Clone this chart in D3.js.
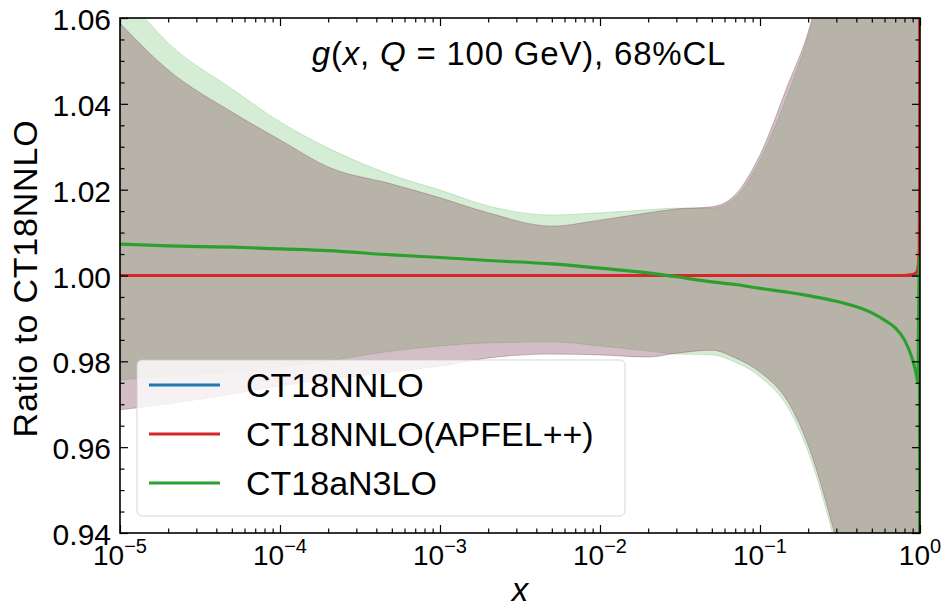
<!DOCTYPE html>
<html>
<head>
<meta charset="utf-8">
<script src="https://cdn.jsdelivr.net/npm/d3@7"></script>
<style>
  html, body { margin: 0; padding: 0; background: #fff; }
</style>
</head>
<body>
<svg id="chart" width="945" height="610"></svg>
<script>
// x grid (momentum fraction) shared by all curves
const xs = [1e-5, 2e-5, 5e-5, 1e-4, 2e-4, 5e-4, 1e-3, 2e-3, 5e-3, 1e-2,
            2e-2, 3e-2, 5e-2, 7e-2, 0.1, 0.15, 0.2, 0.3, 0.4, 0.5,
            0.6, 0.7, 0.8, 0.9, 0.95, 0.97, 0.99, 0.995, 0.999];

// CT18NNLO 68% CL band (ratio to CT18NNLO central)
const nnloLo = [0.9687, 0.9701, 0.9724, 0.9743, 0.9757, 0.9775, 0.9789, 0.9808, 0.9817, 0.9815,
                0.9810, 0.9819, 0.9826, 0.9808, 0.9775, 0.9705, 0.9605, 0.9384, 0.920, 0.900,
                0.870, 0.840, 0.800, 0.720, 0.620, 0.550, 0.400, 0.300, 0.100];
const nnloHi = [1.0588, 1.0479, 1.0381, 1.0316, 1.0253, 1.0213, 1.0181, 1.0146, 1.0115, 1.0129,
                1.0146, 1.0155, 1.0160, 1.0188, 1.0281, 1.0446, 1.0567, 1.085, 1.110, 1.140,
                1.180, 1.240, 1.330, 1.500, 1.700, 1.900, 2.500, 3.000, 4.000];
const nnloMid = [1, 1, 1, 1, 1, 1, 1, 1, 1, 1,
                 1, 1, 1, 1, 1, 1, 1, 1, 1, 1,
                 1, 1, 1, 1, 1, 1, 1, 1, 1];

// CT18NNLO evolved with APFEL++ (same band, central ratio)
const apfelLo = nnloLo.slice();
const apfelHi = nnloHi.slice();
const apfelMid = [1, 1, 1, 1, 1, 1, 1, 1, 1, 1,
                  1, 1, 1, 1, 1, 1, 1, 1, 1, 1,
                  1, 1, 1, 1.0002, 1.0007, 1.0015, 1.006, 1.02, 1.15];

// CT18aN3LO band and central ratio
const n3loLo = [0.9757, 0.9766, 0.9775, 0.9787, 0.9801, 0.9824, 0.9836, 0.9843, 0.9845, 0.9836,
                0.9824, 0.9817, 0.9815, 0.9798, 0.9764, 0.9691, 0.9589, 0.9365, 0.917, 0.897,
                0.867, 0.837, 0.797, 0.717, 0.617, 0.547, 0.397, 0.297, 0.097];
const n3loHi = [1.0670, 1.0542, 1.0435, 1.0358, 1.0297, 1.0234, 1.0199, 1.0162, 1.0141, 1.0146,
                1.0153, 1.0157, 1.0157, 1.0181, 1.0269, 1.0425, 1.0558, 1.083, 1.107, 1.137,
                1.177, 1.237, 1.327, 1.497, 1.697, 1.897, 2.497, 2.997, 3.997];
const n3loMid = [1.0073, 1.0069, 1.0066, 1.0062, 1.0058, 1.0048, 1.0042, 1.0035, 1.0027, 1.0017,
                 1.0006, 0.9997, 0.9985, 0.9979, 0.9970, 0.9961, 0.9953, 0.9940, 0.9927, 0.9913,
                 0.9896, 0.9878, 0.9850, 0.9803, 0.9768, 0.9752, 1.004, 0.950, 0.800];

const seriesNames = ["CT18NNLO", "CT18NNLO(APFEL++)", "CT18aN3LO"];
const seriesColors = ["#1f77b4", "#d62728", "#2ca02c"];
const xTickExps = [-5, -4, -3, -2, -1, 0];
const yTicks = [0.94, 0.96, 0.98, 1.00, 1.02, 1.04, 1.06];

const series = [
  { name: seriesNames[0], color: seriesColors[0], lo: nnloLo, hi: nnloHi, mid: nnloMid },
  { name: seriesNames[1], color: seriesColors[1], lo: apfelLo, hi: apfelHi, mid: apfelMid },
  { name: seriesNames[2], color: seriesColors[2], lo: n3loLo, hi: n3loHi, mid: n3loMid }
];
// bands are painted blue, green, red; central lines blue, red, green
const bandOrder = [0, 2, 1];

const FONT = "Liberation Sans, Arimo, Arial, sans-serif";
const svg = d3.select("#chart");
const L = 120, R = 920, T = 18, B = 533;

const x = d3.scaleLog().domain([1e-5, 1]).range([L, R]);
const y = d3.scaleLinear().domain([0.94, 1.06]).range([B, T]);

svg.append("defs").append("clipPath").attr("id", "plotclip")
  .append("rect").attr("x", L).attr("y", T).attr("width", R - L).attr("height", B - T);

const plot = svg.append("g").attr("clip-path", "url(#plotclip)");

const area = d3.area()
  .x((d, i) => x(xs[i]))
  .curve(d3.curveMonotoneX);
const line = d3.line()
  .x((d, i) => x(xs[i]))
  .curve(d3.curveMonotoneX);

bandOrder.forEach(k => {
  const s = series[k];
  plot.append("path")
    .datum(xs)
    .attr("d", area.y0((d, i) => y(s.lo[i])).y1((d, i) => y(s.hi[i])))
    .attr("fill", s.color).attr("fill-opacity", 0.2)
    .attr("stroke", s.color).attr("stroke-opacity", 0.2).attr("stroke-width", 1);
});
series.forEach(s => {
  plot.append("path")
    .datum(s.mid)
    .attr("d", line.y(d => y(d)))
    .attr("fill", "none")
    .attr("stroke", s.color).attr("stroke-width", 3.2)
    .attr("stroke-linejoin", "round");
});

// ticks (inward on all four sides)
const majorX = xTickExps.map(e => Math.pow(10, e));
const minorX = [];
for (let e = -5; e < 0; e++) for (let k = 2; k <= 9; k++) minorX.push(k * Math.pow(10, e));
const minorY = d3.range(0, 25).map(i => +(0.94 + i * 0.005).toFixed(3))
  .filter(v => !yTicks.some(t => Math.abs(t - v) < 1e-6));

function styleAxis(g) {
  g.select(".domain").remove();
  g.selectAll(".tick line").attr("stroke", "#000").attr("stroke-width", 1.2);
  g.selectAll(".tick text").remove();
}

svg.append("g").attr("transform", `translate(0,${B})`)
  .call(d3.axisBottom(x).tickValues(majorX).tickSize(-8).tickFormat("")).call(styleAxis);
svg.append("g").attr("transform", `translate(0,${B})`)
  .call(d3.axisBottom(x).tickValues(minorX).tickSize(-4.5).tickFormat("")).call(styleAxis);
svg.append("g").attr("transform", `translate(0,${T})`)
  .call(d3.axisTop(x).tickValues(majorX).tickSize(-8).tickFormat("")).call(styleAxis);
svg.append("g").attr("transform", `translate(0,${T})`)
  .call(d3.axisTop(x).tickValues(minorX).tickSize(-4.5).tickFormat("")).call(styleAxis);
svg.append("g").attr("transform", `translate(${L},0)`)
  .call(d3.axisLeft(y).tickValues(yTicks).tickSize(-8).tickFormat("")).call(styleAxis);
svg.append("g").attr("transform", `translate(${L},0)`)
  .call(d3.axisLeft(y).tickValues(minorY).tickSize(-4.5).tickFormat("")).call(styleAxis);
svg.append("g").attr("transform", `translate(${R},0)`)
  .call(d3.axisRight(y).tickValues(yTicks).tickSize(-8).tickFormat("")).call(styleAxis);
svg.append("g").attr("transform", `translate(${R},0)`)
  .call(d3.axisRight(y).tickValues(minorY).tickSize(-4.5).tickFormat("")).call(styleAxis);

// frame
svg.append("rect").attr("x", L).attr("y", T).attr("width", R - L).attr("height", B - T)
  .attr("fill", "none").attr("stroke", "#000").attr("stroke-width", 1.6);

function face(sel) { return sel.attr("font-family", FONT).style("font-family", FONT); }

// y tick labels
svg.append("g").selectAll("text").data(yTicks).join("text")
  .call(face)
  .attr("x", L - 9).attr("y", d => y(d) + 12)
  .attr("text-anchor", "end").style("font-size", "30px")
  .text(d => d.toFixed(2));

// x tick labels 10^e
const xl = svg.append("g").selectAll("text").data(xTickExps).join("text")
  .call(face)
  .attr("x", d => x(Math.pow(10, d)))
  .attr("y", B + 32)
  .attr("text-anchor", "middle").style("font-size", "28px");
xl.append("tspan").text("10");
xl.append("tspan").attr("dy", -12).style("font-size", "20px")
  .text(d => d < 0 ? "\u2212" + (-d) : String(d));

// axis titles
svg.append("text").call(face).attr("x", (L + R) / 2).attr("y", 601)
  .attr("text-anchor", "middle").style("font-size", "33px").style("font-style", "italic")
  .text("x");
svg.append("text").call(face).attr("transform", `translate(37,${(T + B) / 2 + 3}) rotate(-90)`)
  .attr("text-anchor", "middle").style("font-size", "34px").style("letter-spacing", "0.8px")
  .text("Ratio to CT18NNLO");

// in-plot title
const title = svg.append("text").call(face).attr("x", 519).attr("y", 65)
  .attr("text-anchor", "middle").style("font-size", "33px").style("letter-spacing", "0.8px");
title.append("tspan").style("font-style", "italic").text("g");
title.append("tspan").text("(");
title.append("tspan").style("font-style", "italic").text("x");
title.append("tspan").text(", ");
title.append("tspan").style("font-style", "italic").text("Q");
title.append("tspan").text(" = 100 GeV),  68%CL");

// legend
const lg = svg.append("g");
lg.append("rect").attr("x", 137).attr("y", 360).attr("width", 488).attr("height", 156)
  .attr("rx", 5).attr("fill", "#fff").attr("fill-opacity", 0.8)
  .attr("stroke", "#ccc").attr("stroke-opacity", 0.8).attr("stroke-width", 1);
const rowY = [385, 434, 483];
series.forEach((s, i) => {
  lg.append("line").attr("x1", 149).attr("x2", 220).attr("y1", rowY[i]).attr("y2", rowY[i])
    .attr("stroke", s.color).attr("stroke-width", 3.2);
  lg.append("text").call(face).attr("x", 246).attr("y", rowY[i] + 12)
    .style("font-size", "34px").text(s.name);
});
</script>
</body>
</html>
